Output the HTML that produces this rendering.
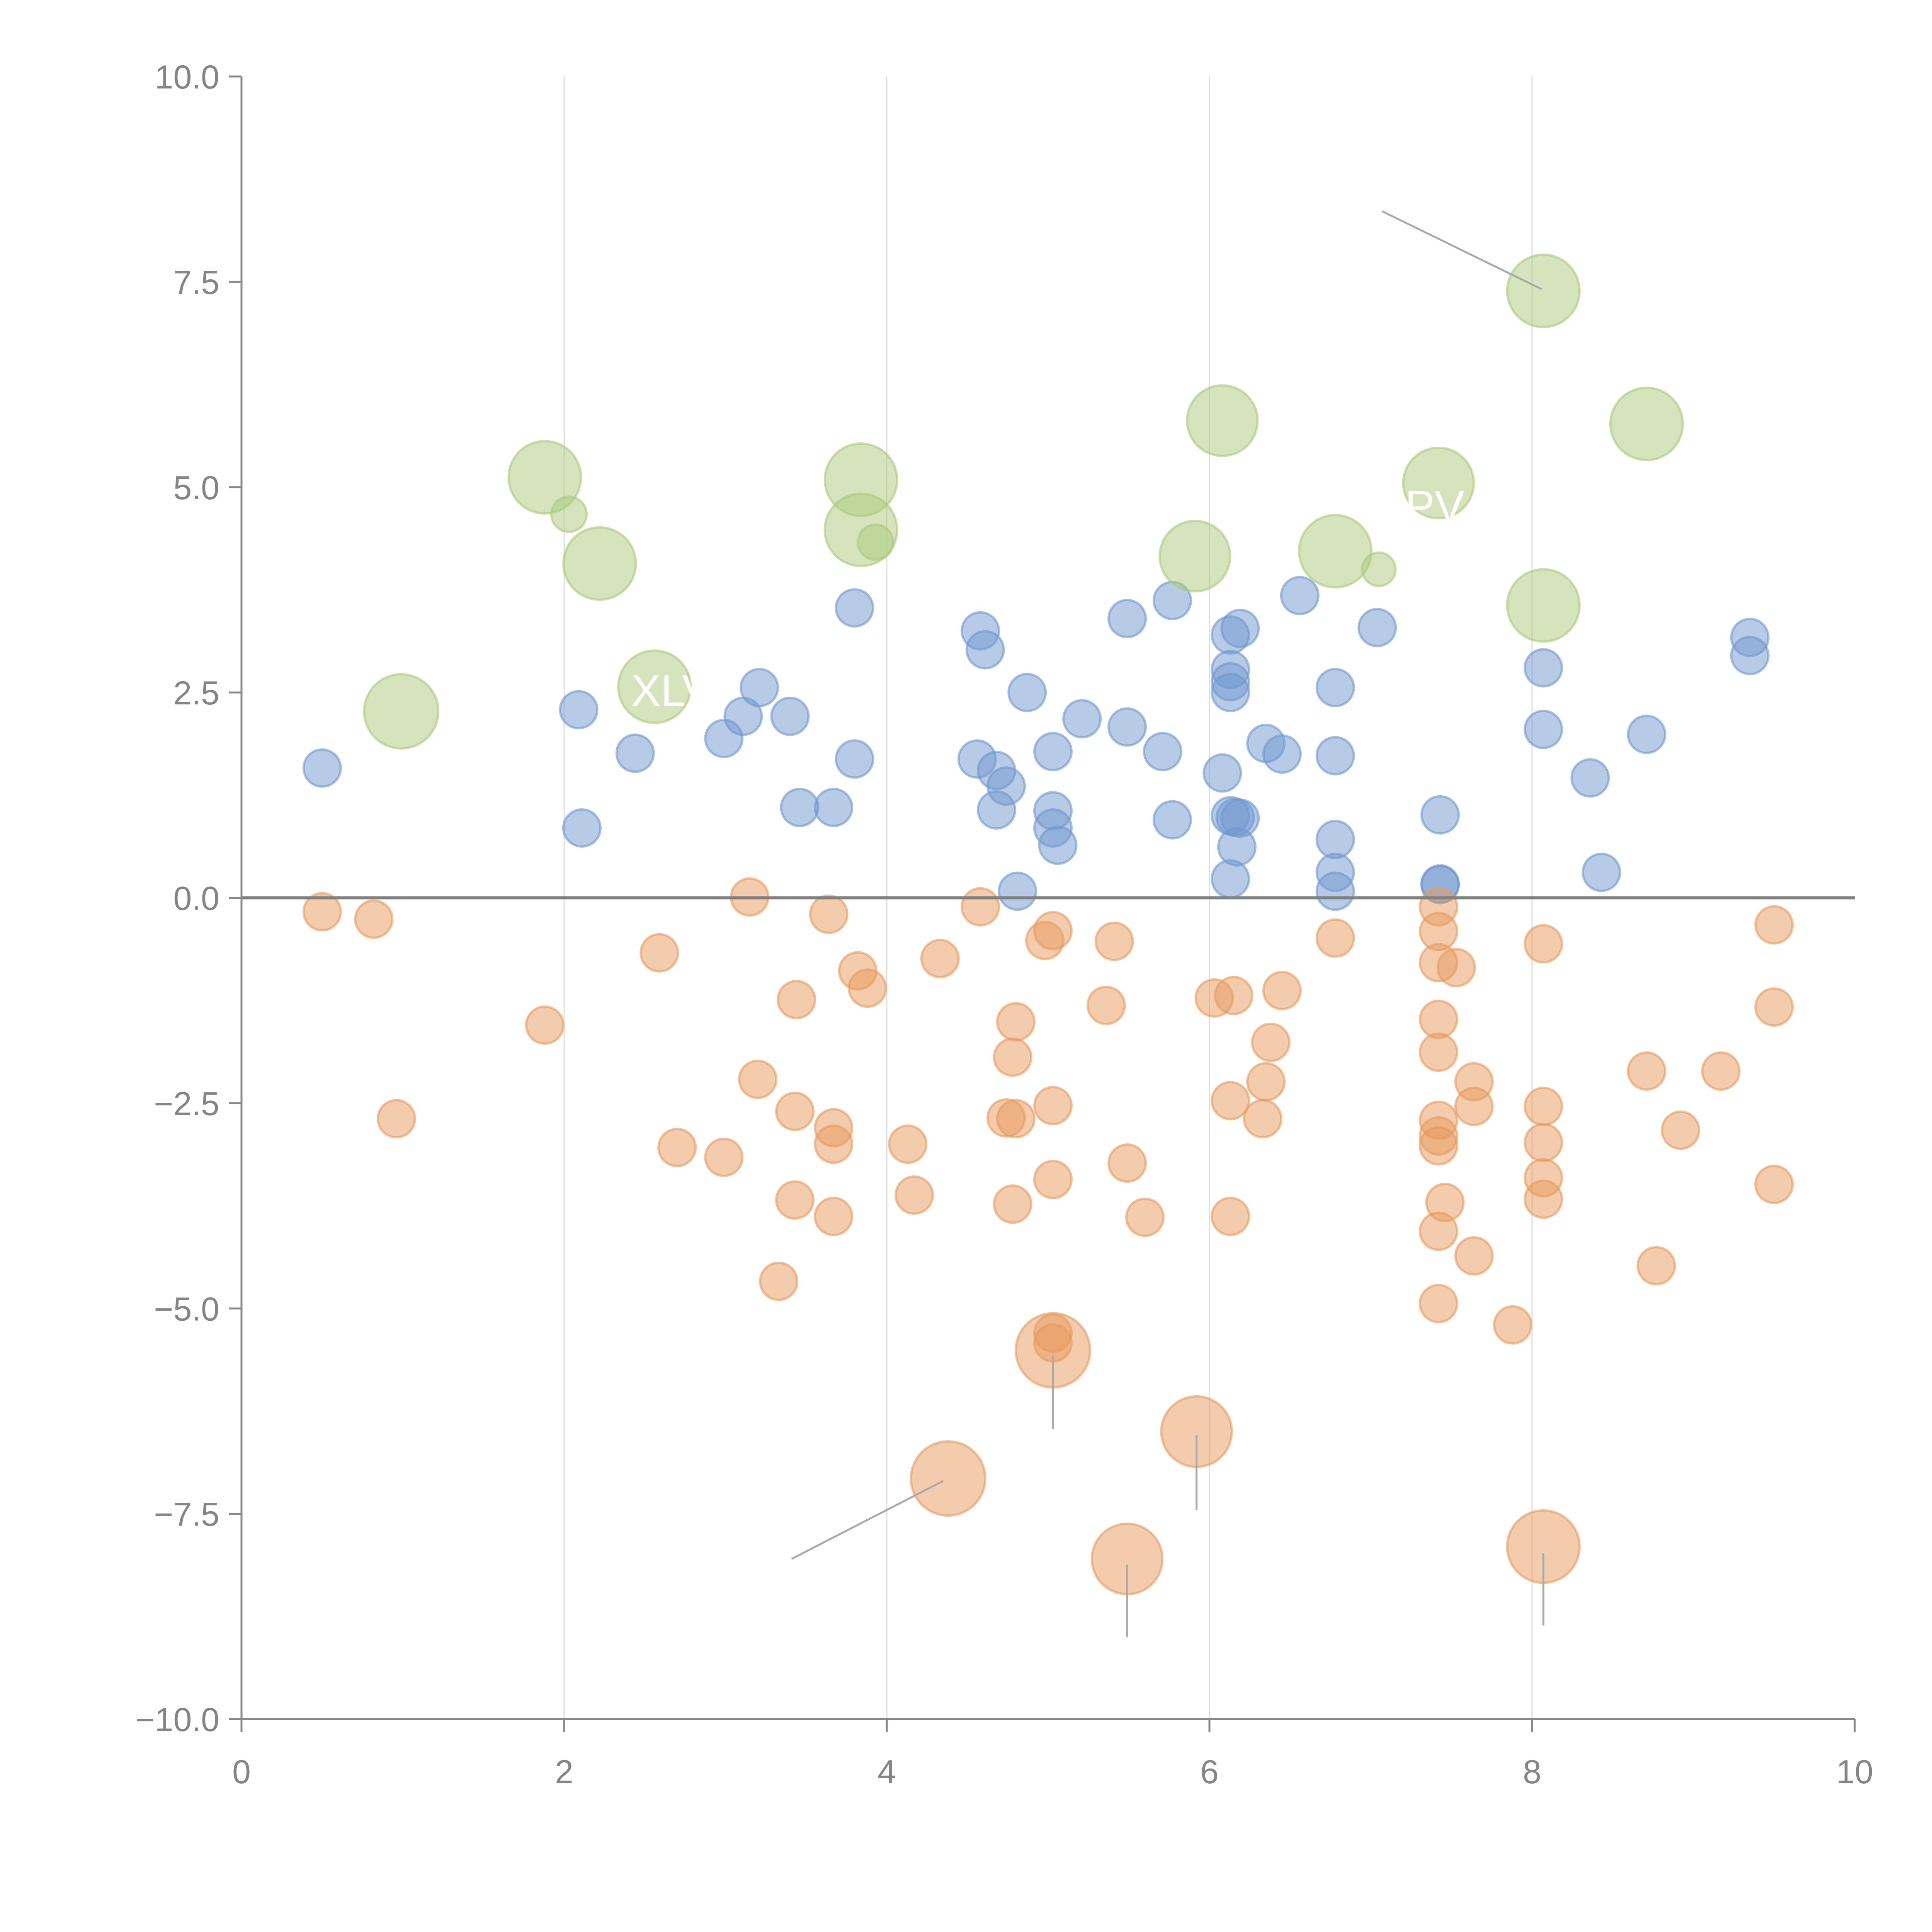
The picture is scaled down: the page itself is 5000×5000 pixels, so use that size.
<!DOCTYPE html>
<html><head><meta charset="utf-8"><style>html,body{margin:0;padding:0;background:#fff}svg{display:block}</style></head>
<body>
<svg id="chart" xmlns="http://www.w3.org/2000/svg" width="5000" height="5000" viewBox="0 0 5000 5000" font-family="Liberation Sans, sans-serif">
<rect width="5000" height="5000" fill="#fff"/>
<g id="grid"></g>
<g id="marks"></g>
<g id="axes"></g>
</svg>
<script>
const xTicks=[0,2,4,6,8,10];
const xTickLabels=["0","2","4","6","8","10"];
const yTicks=[10,7.5,5,2.5,0,-2.5,-5,-7.5,-10];
const yTickLabels=["10.0","7.5","5.0","2.5","0.0","\u22122.5","\u22125.0","\u22127.5","\u221210.0"];
const blueX=[0.50,2.09,2.11,2.44,2.99,3.11,3.21,3.40,3.46,3.67,3.80,3.80,4.56,4.58,4.61,4.68,4.74,4.68,4.81,4.87,5.03,5.03,5.03,5.06,5.21,5.49,5.49,5.71,5.77,5.77,6.08,6.13,6.13,6.13,6.13,6.13,6.16,6.19,6.19,6.17,6.13,6.35,6.45,6.56,6.78,6.78,6.78,6.78,6.78,7.04,7.43,7.43,7.43,8.07,8.07,8.36,8.43,8.71,9.35,9.35];
const blueY=[1.58,2.29,0.85,1.76,1.94,2.21,2.56,2.21,1.10,1.10,3.53,1.69,1.69,3.25,3.02,1.55,1.36,1.07,0.08,2.50,1.78,1.06,0.85,0.64,2.18,3.40,2.08,1.78,3.62,0.95,1.52,3.20,2.78,2.63,2.50,1.00,0.98,3.28,0.97,0.62,0.23,1.88,1.75,3.68,2.56,1.73,0.71,0.31,0.08,3.29,1.01,0.17,0.16,2.80,2.05,1.46,0.31,1.99,3.17,2.95];
const orangeX=[0.50,0.82,0.96,1.88,2.59,2.70,2.99,3.15,3.20,3.33,3.43,3.43,3.44,3.64,3.67,3.67,3.67,3.82,3.88,4.13,4.17,4.33,4.58,4.74,4.78,4.78,4.80,4.80,4.98,5.03,5.03,5.03,5.03,5.03,5.36,5.41,5.49,5.60,6.03,6.15,6.13,6.13,6.33,6.35,6.38,6.45,6.78,7.42,7.42,7.42,7.42,7.42,7.42,7.42,7.42,7.46,7.42,7.42,7.53,7.64,7.64,7.64,7.88,8.07,8.07,8.07,8.07,8.07,8.71,8.77,8.92,9.17,9.50,9.50,9.50];
const orangeY=[-0.17,-0.26,-2.69,-1.55,-0.67,-3.04,-3.16,0.01,-2.21,-4.67,-2.60,-3.68,-1.24,-0.20,-2.80,-3.00,-3.88,-0.89,-1.10,-3.00,-3.62,-0.74,-0.11,-2.68,-1.94,-3.73,-1.51,-2.69,-0.52,-0.40,-2.53,-3.43,-5.30,-5.42,-1.31,-0.53,-3.23,-3.89,-1.22,-1.19,-2.47,-3.88,-2.69,-2.24,-1.76,-1.13,-0.49,-0.11,-0.41,-0.79,-1.48,-1.88,-2.71,-2.90,-3.02,-3.71,-4.06,-4.94,-0.85,-2.24,-2.54,-4.36,-5.20,-0.56,-2.54,-2.98,-3.41,-3.67,-2.11,-4.48,-2.83,-2.11,-0.33,-1.33,-3.49];
const bigOrangeX=[5.03,4.38,5.92,5.49,8.07];
const bigOrangeY=[-5.51,-7.07,-6.50,-8.05,-7.90];
const bigOrangeSize=[2.0,2.0,1.9,1.9,1.95];
const greenX=[0.99,1.88,2.03,2.22,2.56,3.84,3.84,3.93,5.91,6.08,6.78,7.05,7.42,8.07,8.07,8.71];
const greenY=[2.27,5.12,4.67,4.07,2.57,5.09,4.48,4.33,4.16,5.81,4.22,4.00,5.05,7.39,3.56,5.77];
const greenSize=[2.0,1.95,0.95,1.95,1.95,1.95,1.95,0.95,1.9,1.9,1.95,0.9,1.9,1.95,1.95,1.95];
const leaderX1=[7.07,3.41,5.03,5.92,5.49,8.07];
const leaderY1=[8.36,-8.05,-5.57,-6.54,-8.12,-7.98];
const leaderX2=[8.06,4.35,5.03,5.92,5.49,8.07];
const leaderY2=[7.41,-7.10,-6.47,-7.45,-9.00,-8.86];

const L=625,R=4800,T=198,B=4449,NS="http://www.w3.org/2000/svg";
const xs=v=>L+(v-0)/10*(R-L);
const ys=v=>B-(v+10)/20*(B-T);
const rs=s=>s*48;
function mk(tag,parent,attrs){const e=document.createElementNS(NS,tag);for(const k in attrs)e.setAttribute(k,attrs[k]);document.getElementById(parent).appendChild(e);return e;}

xTicks.forEach((t,i)=>{if(t>0&&t<10){const g=mk('line','grid',{x1:xs(t),x2:xs(t),y1:T,y2:B,stroke:'#dddddd','stroke-width':3});

}});

function dots(X,Y,S,fill,stroke,name){X.forEach((x,i)=>{const c=mk('circle','marks',{cx:xs(x),cy:ys(Y[i]),r:rs(S?S[i]:1),fill:fill,'fill-opacity':0.5,stroke:stroke,'stroke-opacity':0.6,'stroke-width':6});

});}
dots(blueX,blueY,null,'#6f97cf','#6f97cf','blue-point');
dots(orangeX,orangeY,null,'#e8995c','#e8995c','orange-point');
dots(bigOrangeX,bigOrangeY,bigOrangeSize,'#e8995c','#e8995c','orange-large-point');
dots(greenX,greenY,greenSize,'#abc97a','#abc97a','green-point');

leaderX1.forEach((x,i)=>{const l=mk('line','marks',{x1:xs(x),y1:ys(leaderY1[i]),x2:xs(leaderX2[i]),y2:ys(leaderY2[i]),stroke:'#aaaaaa','stroke-width':5});

});

const t1=mk('text','marks',{x:xs(2.56)+60,y:ys(2.57)+50,fill:'#fff','font-size':115,'text-anchor':'middle'});t1.textContent='XLVI';


const t2=mk('text','marks',{x:xs(7.42)-10,y:ys(5.05)+100,fill:'#fff','font-size':115,'text-anchor':'middle'});t2.textContent='PV';



const z=mk('line','axes',{x1:L,x2:R,y1:ys(0),y2:ys(0),stroke:'#808080','stroke-width':8});


const ya=mk('line','axes',{x1:L,x2:L,y1:T,y2:B,stroke:'#888','stroke-width':5});


const xa=mk('line','axes',{x1:L,x2:R,y1:B,y2:B,stroke:'#888','stroke-width':5});


yTicks.forEach((t,i)=>{const tk=mk('line','axes',{x1:L-33,x2:L,y1:ys(t),y2:ys(t),stroke:'#888','stroke-width':5});


const tx=mk('text','axes',{x:L-57,y:ys(t)+31,fill:'#858585','font-size':86,'text-anchor':'end'});tx.textContent=yTickLabels[i];

});
xTicks.forEach((t,i)=>{const tk=mk('line','axes',{x1:xs(t),x2:xs(t),y1:B,y2:B+33,stroke:'#888','stroke-width':5});


const tx=mk('text','axes',{x:xs(t),y:B+166,fill:'#858585','font-size':86,'text-anchor':'middle'});tx.textContent=xTickLabels[i];

});
</script>
</body></html>
